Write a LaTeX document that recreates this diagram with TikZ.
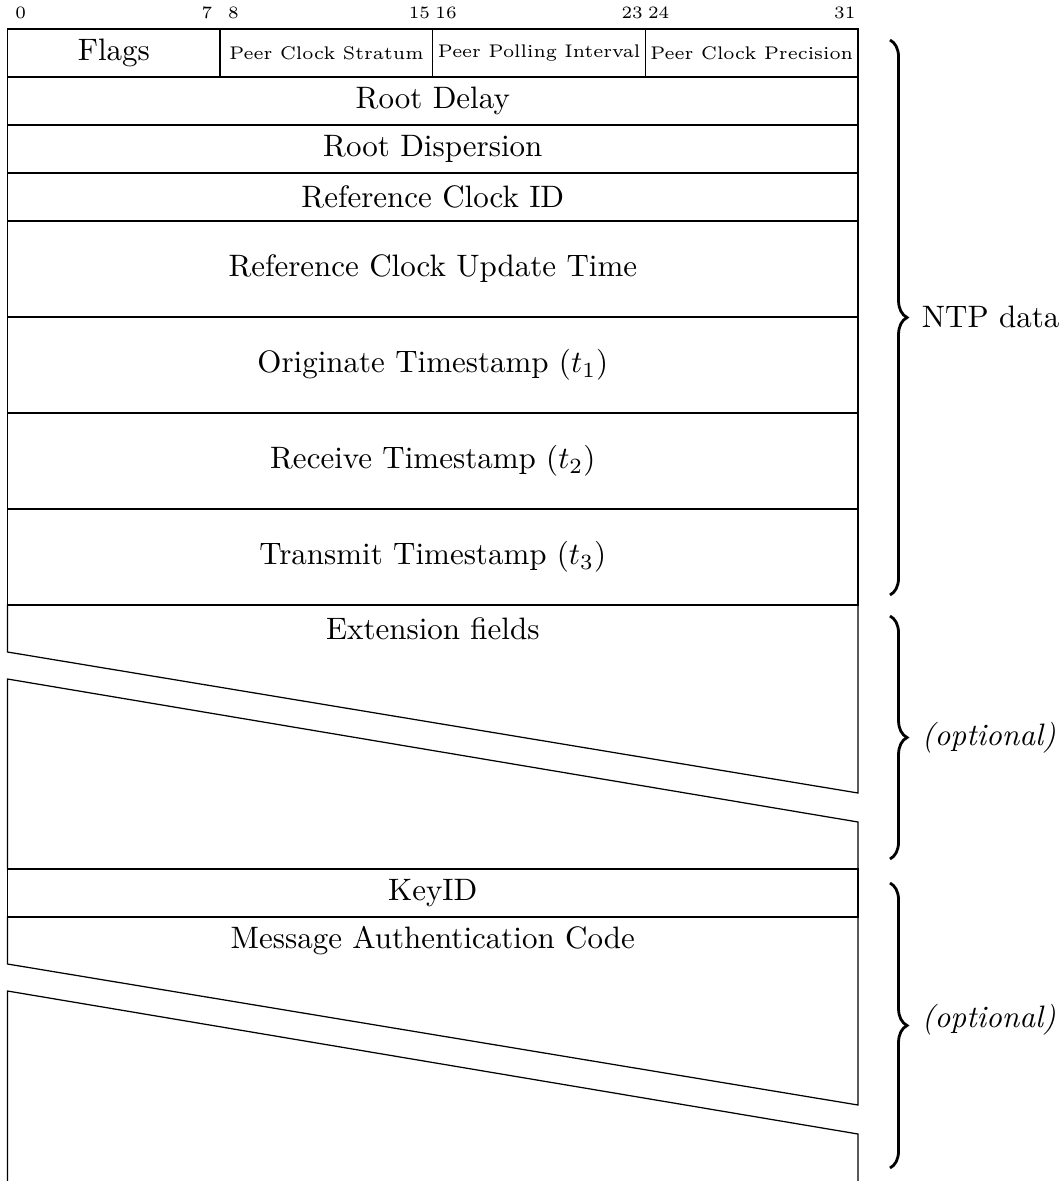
\documentclass[tikz,border=0pt]{standalone}
\usepackage{amsmath}
\usepackage{tikz}
\usetikzlibrary{decorations.pathreplacing}
\tikzset{grp/.style={decorate,decoration={brace,amplitude=5.5pt},line width=0.9pt},
  peer/.style={font=\fontsize{5.9}{7}\selectfont},
  bitnum/.style={font=\fontsize{5.6}{6.5}\selectfont}}

\begin{document}
\begin{tikzpicture}[x=0.3226pt,y=-0.3226pt]
\useasboundingbox (0,0) rectangle (1062,1181);
\foreach \b in {0,7,8,15,16,23,24,31} \node[bitnum] (bit\b) at ({7.5+26.58*(\b+0.5)},13) {\b};

\draw (7.5,29) rectangle (220.1,77); \node (flags) at (113.8,53) {Flags};
\draw (220.1,29) rectangle (432.8,77); \node[peer] (stratum) at (326.4,53) {Peer Clock Stratum};
\draw (432.8,29) rectangle (645.4,77); \node[peer] (poll) at (539.1,53) {Peer Polling Interval};
\draw (645.4,29) rectangle (858,77); \node[peer] (prec) at (751.7,53) {Peer Clock Precision};

\draw (7.5,77) rectangle (858,125); \node (rdelay) at (432.8,101) {Root Delay};
\draw (7.5,125) rectangle (858,173); \node (rdisp) at (432.8,149) {Root Dispersion};
\draw (7.5,173) rectangle (858,221); \node (refid) at (432.8,197) {Reference Clock ID};
\draw (7.5,221) rectangle (858,317); \node (reftime) at (432.8,269) {Reference Clock Update Time};
\draw (7.5,317) rectangle (858,413); \node (org) at (432.8,365) {Originate Timestamp ($t_1$)};
\draw (7.5,413) rectangle (858,509); \node (rec) at (432.8,461) {Receive Timestamp ($t_2$)};
\draw (7.5,509) rectangle (858,605); \node (xmt) at (432.8,557) {Transmit Timestamp ($t_3$)};

% skipped words
\draw (7.5,652) -- (7.5,605) -- (858,605) -- (858,793) -- cycle; \node (ext) at (432.8,629) {Extension fields};
\draw (858,822) -- (7.5,679) -- (7.5,869) -- (858,869) -- cycle;

\draw (7.5,869) rectangle (858,917); \node (keyid) at (432.8,893) {KeyID};
\draw (7.5,964) -- (7.5,917) -- (858,917) -- (858,1105) -- cycle; \node (mac) at (432.8,941) {Message Authentication Code};
\draw (7.5,1181) -- (7.5,991) -- (858,1134) -- (858,1181);

\draw[grp] (890,40) -- (890,595); \node[anchor=west] (ntp) at (911,317) {NTP data};
\draw[grp] (890,616) -- (890,859); \node[anchor=west] (opt1) at (911,737.5) {\textit{(optional)}};
\draw[grp] (890,883) -- (890,1168); \node[anchor=west] (opt2) at (911,1020) {\textit{(optional)}};

\end{tikzpicture}
\end{document}
